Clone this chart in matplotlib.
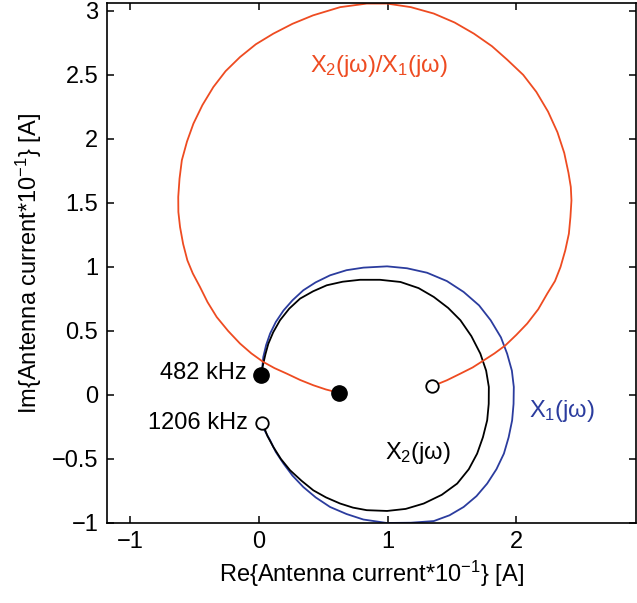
import matplotlib
matplotlib.use("Agg")
import matplotlib.pyplot as plt
import numpy as np

plt.rcParams['font.family'] = ['Liberation Sans', 'DejaVu Sans']
plt.rcParams['mathtext.fontset'] = 'custom'
plt.rcParams['mathtext.rm'] = 'Liberation Sans'
plt.rcParams['mathtext.it'] = 'Liberation Sans'

# points (Re, Im), 482 kHz end -> 1206 kHz end
x1_re = [0.02, 0.033, 0.055, 0.086, 0.13, 0.19, 0.26, 0.344, 0.44, 0.552, 0.68,
         0.811, 0.995, 1.15, 1.306, 1.46, 1.59, 1.71, 1.80, 1.88, 1.928, 1.965,
         1.98, 1.978, 1.967, 1.94, 1.903, 1.845, 1.773, 1.69, 1.59, 1.48, 1.358,
         1.18, 0.993, 0.811, 0.68, 0.552, 0.44, 0.344, 0.26, 0.19, 0.13, 0.086,
         0.045, 0.021]
x1_im = [0.16, 0.297, 0.39, 0.48, 0.57, 0.66, 0.74, 0.818, 0.88, 0.935, 0.975,
         0.995, 1.005, 0.99, 0.955, 0.89, 0.805, 0.70, 0.584, 0.45, 0.323, 0.19,
         0.0625, -0.07, -0.198, -0.33, -0.458, -0.58, -0.692, -0.79, -0.875,
         -0.94, -0.985, -0.998, -1.0, -0.973, -0.93, -0.875, -0.80, -0.719,
         -0.63, -0.536, -0.445, -0.354, -0.28, -0.216]

x2_re = [0.013, 0.033, 0.05, 0.072, 0.11, 0.163, 0.235, 0.319, 0.42, 0.526, 0.65,
         0.785, 0.94, 1.099, 1.24, 1.358, 1.47, 1.565, 1.65, 1.72, 1.765, 1.786,
         1.785, 1.773, 1.74, 1.695, 1.63, 1.54, 1.42, 1.28, 1.14, 0.995, 0.837,
         0.73, 0.63, 0.52, 0.422, 0.33, 0.241, 0.17, 0.111, 0.065, 0.033, 0.021]
x2_im = [0.154, 0.245, 0.32, 0.40, 0.49, 0.584, 0.675, 0.753, 0.81, 0.857, 0.885,
         0.90, 0.90, 0.883, 0.835, 0.766, 0.68, 0.584, 0.46, 0.323, 0.19, 0.0625,
         -0.07, -0.198, -0.33, -0.458, -0.58, -0.692, -0.78, -0.848, -0.89,
         -0.906, -0.90, -0.88, -0.848, -0.80, -0.745, -0.67, -0.588, -0.50,
         -0.406, -0.32, -0.237, -0.216]

ratio_re = [0.624, 0.52, 0.422, 0.32, 0.215, 0.12, 0.033, -0.06, -0.148, -0.24,
            -0.329, -0.40, -0.459, -0.515, -0.557, -0.59, -0.614, -0.627, -0.628,
            -0.618, -0.60, -0.56, -0.51, -0.44, -0.355, -0.26, -0.148, -0.025,
            0.111, 0.26, 0.42, 0.63, 0.837, 0.995, 1.18, 1.358, 1.52, 1.67, 1.81,
            1.928, 2.053, 2.155, 2.246, 2.319, 2.372, 2.405, 2.423, 2.428, 2.42,
            2.408, 2.38, 2.343, 2.30, 2.24, 2.17, 2.084, 2.00, 1.915, 1.83, 1.747,
            1.66, 1.565, 1.46, 1.345]
ratio_im = [0.016, 0.043, 0.076, 0.117, 0.167, 0.21, 0.258, 0.325, 0.402, 0.50,
            0.609, 0.725, 0.844, 0.95, 1.052, 1.18, 1.3125, 1.43, 1.547, 1.69,
            1.834, 1.98, 2.12, 2.265, 2.406, 2.53, 2.64, 2.74, 2.823, 2.90, 2.966,
            3.03, 3.058, 3.058, 3.03, 2.98, 2.91, 2.823, 2.725, 2.62, 2.501, 2.368,
            2.214, 2.053, 1.891, 1.735, 1.625, 1.52, 1.39, 1.26, 1.13, 1.0, 0.89,
            0.792, 0.67, 0.558, 0.47, 0.388, 0.325, 0.271, 0.215, 0.167, 0.115,
            0.068]

# marker points: 482 kHz (filled) and 1206 kHz (open)
f482_re = [0.013, 0.624]
f482_im = [0.154, 0.016]
f1206_re = [0.021, 1.345]
f1206_im = [-0.216, 0.068]

orange = '#ee4b21'
blue = '#2b3c9e'

fig = plt.figure(figsize=(6.37, 6.03), dpi=100)
ax = fig.add_axes([0.1675, 0.1327, 0.8310, 0.8618])

line_kw = dict(lw=1.3, solid_joinstyle='round', solid_capstyle='round')
ax.plot(x1_re, x1_im, color=blue, **line_kw)
ax.plot(x2_re, x2_im, color='black', **line_kw)
ax.plot(ratio_re, ratio_im, color=orange, **line_kw)

ax.plot(f482_re, f482_im, 'o', color='black', ms=11, ls='none')
ax.plot(f1206_re, f1206_im, 'o', mfc='white', mec='black', mew=1.3, ms=9,
        ls='none')

fs = 17
ax.text(-0.10, 0.17, '482 kHz', ha='right', va='center', fontsize=fs)
ax.text(-0.09, -0.219, '1206 kHz', ha='right', va='center', fontsize=fs)
ax.text(0.93, 2.52, r'X$_2$(jω)/X$_1$(jω)', ha='center', va='baseline',
        color=orange, fontsize=fs)
ax.text(2.10, -0.172, r'X$_1$(jω)', ha='left', va='baseline', color=blue,
        fontsize=fs)
ax.text(0.982, -0.497, r'X$_2$(jω)', ha='left', va='baseline', color='black',
        fontsize=fs)

ax.set_xlim(-1.184, 2.93)
ax.set_ylim(-1, 3.06)
ax.set_xticks([-1, 0, 1, 2])
ax.set_yticks([-1, -0.5, 0, 0.5, 1, 1.5, 2, 2.5, 3])
ax.set_yticklabels(['\u22121', '\u22120.5', '0', '0.5', '1', '1.5', '2', '2.5', '3'])
ax.set_xticklabels(['\u22121', '0', '1', '2'])
ax.tick_params(direction='in', top=True, right=True, length=5, width=1.1,
               labelsize=fs, pad=6)
for s in ax.spines.values():
    s.set_linewidth(1.2)

ax.set_xlabel(r'Re{Antenna current*10$^{-1}$} [A]', fontsize=fs, labelpad=4)
ax.set_ylabel(r'Im{Antenna current*10$^{-1}$} [A]', fontsize=fs, labelpad=6)

fig.savefig('out.png', dpi=100)
